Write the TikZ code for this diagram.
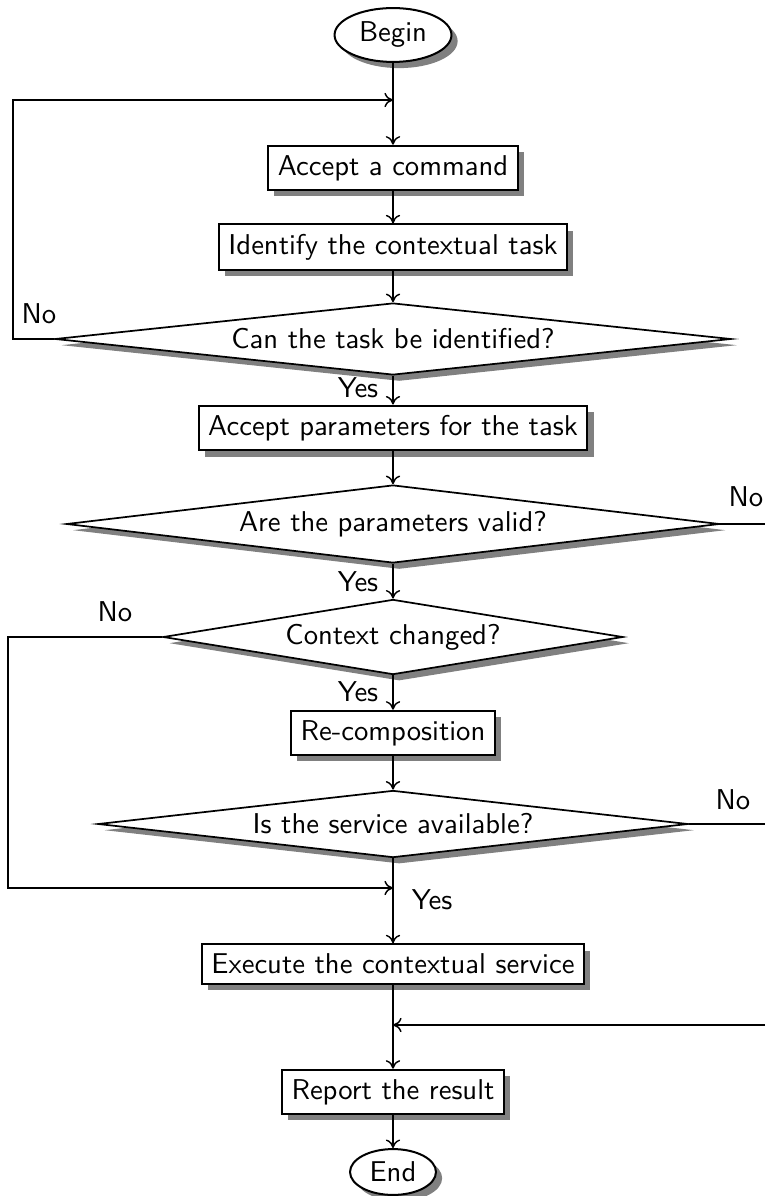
\documentclass[tikz,border=0pt]{standalone}
\usetikzlibrary{shapes.geometric,shadows,arrows.meta}
\begin{document}
\begin{tikzpicture}[x=0.349pt,y=-0.349pt,font=\sffamily,
  >={To[length=3pt,width=5pt]},
  shade/.style={drop shadow={opacity=1,fill=black!50}},
  box/.style={draw,fill=white,line width=0.7pt,shade},
  term/.style={ellipse,draw,fill=white,line width=0.7pt,shade,inner sep=0pt},
  test/.style={diamond,draw,fill=white,line width=0.6pt,shade,inner sep=0pt},
  flow/.style={->,line width=0.5pt},
  link/.style={line width=0.5pt}]
\useasboundingbox (0,0) rectangle (765,1196);

% process steps
\node[term,minimum width=40.8pt,minimum height=18.8pt] (begin) at (393,35) {Begin};
\node[box] (accept) at (393,168) {Accept a command};
\node[box] (identify) at (393,247) {Identify the contextual task};
\node[test,aspect=9.4,minimum width=235.9pt,minimum height=25.1pt] (d1) at (393,339) {Can the task be identified?};
\node[box] (params) at (393,428) {Accept parameters for the task};
\node[test,aspect=8.4,minimum width=227.9pt,minimum height=27.2pt] (d2) at (393,524) {Are the parameters valid?};
\node[test,aspect=6.1,minimum width=160.5pt,minimum height=26.2pt] (d3) at (393,637) {Context changed?};
\node[box] (recomp) at (393,733) {Re-composition};
\node[test,aspect=8.8,minimum width=205.9pt,minimum height=23.4pt] (d4) at (393,824) {Is the service available?};
\node[box] (exec) at (393,964) {Execute the contextual service};
\node[box] (report) at (393,1092) {Report the result};
\node[term,minimum width=30pt,minimum height=16pt] (end) at (393,1172) {End};

% branch labels
\node (no1) at (39,314) {No};
\node (yes1) at (358,388) {Yes};
\node (no2) at (746,497) {No};
\node (yes2) at (358,582) {Yes};
\node (no3) at (115,612) {No};
\node (yes3) at (358,692) {Yes};
\node (no4) at (733,800) {No};
\node (yes4) at (432,900) {Yes};

% junction and loose-end points
\coordinate (j1) at (393,100);
\coordinate (l1) at (13,339);
\coordinate (r2) at (765,524);
\coordinate (l3) at (8,637);
\coordinate (j3) at (393,888);
\coordinate (r4) at (765,824);
\coordinate (j5) at (393,1025);
\coordinate (r5) at (765,1025);

% connectors
\draw[flow] (begin) -- (accept);
\draw[flow] (d1.west) -- (l1) |- (j1);
\draw[flow] (accept) -- (identify);
\draw[flow] (identify) -- (d1);
\draw[flow] (d1) -- (params);
\draw[flow] (params) -- (d2);
\draw[link] (d2.east) -- (r2);
\draw[flow] (d2) -- (d3);
\draw[flow] (d3.west) -- (l3) |- (j3);
\draw[flow] (d3) -- (recomp);
\draw[flow] (recomp) -- (d4);
\draw[link] (d4.east) -- (r4);
\draw[flow] (d4) -- (exec);
\draw[flow] (exec) -- (report);
\draw[flow] (r5) -- (j5);
\draw[flow] (report) -- (end);
\end{tikzpicture}
\end{document}
